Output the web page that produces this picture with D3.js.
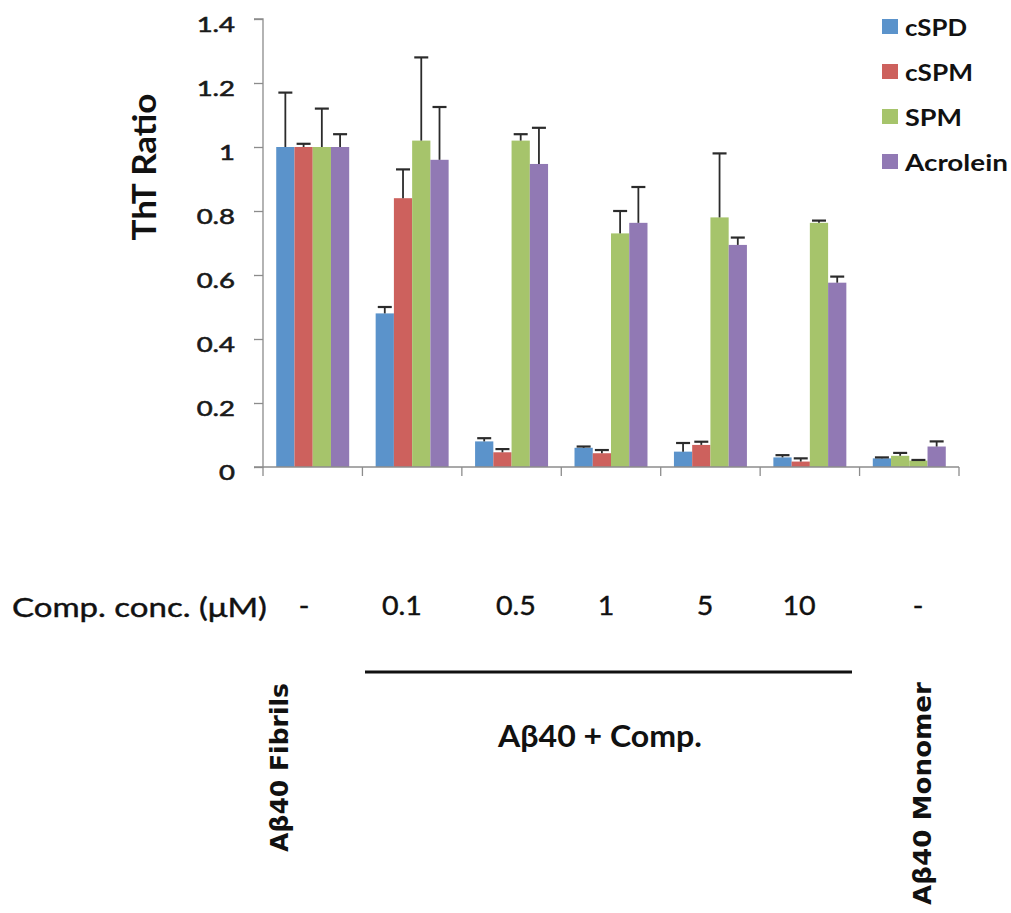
<!DOCTYPE html>
<html><head><meta charset="utf-8">
<script src="https://cdn.jsdelivr.net/npm/d3@7"></script>
<style>html,body{margin:0;padding:0;background:#fff;}svg{display:block;}</style>
</head><body>
<svg id="chart" width="1011" height="913"></svg>
<script>
// ---------- data ----------
const categories = ["Aβ40 Fibrils", "0.1", "0.5", "1", "5", "10", "Aβ40 Monomer"];
const concLabels = ["-", "0.1", "0.5", "1", "5", "10", "-"];
const seriesNames = ["cSPD", "cSPM", "SPM", "Acrolein"];
const cSPD        = [1.00, 0.48, 0.080, 0.060, 0.048, 0.030, 0.027];
const cSPDErr     = [0.17, 0.02, 0.010, 0.004, 0.027, 0.007, 0.003];
const cSPM        = [1.00, 0.84, 0.046, 0.043, 0.069, 0.017, 0.035];
const cSPMErr     = [0.01, 0.09, 0.010, 0.010, 0.010, 0.010, 0.009];
const SPM         = [1.00, 1.02, 1.020, 0.730, 0.780, 0.763, 0.020];
const SPMErr      = [0.12, 0.26, 0.020, 0.070, 0.200, 0.007, 0.002];
const Acrolein    = [1.00, 0.96, 0.947, 0.763, 0.694, 0.576, 0.064];
const AcroleinErr = [0.04, 0.165, 0.113, 0.112, 0.023, 0.019, 0.016];
const yTicks = [0, 0.2, 0.4, 0.6, 0.8, 1.0, 1.2, 1.4];
// fill used for the bars of the monomer group (second bar appears green in the source)
const monomerFill = ["cSPD", "SPM", "SPM", "Acrolein"];

const values = {cSPD, cSPM, SPM, Acrolein};
const errors = {cSPD: cSPDErr, cSPM: cSPMErr, SPM: SPMErr, Acrolein: AcroleinErr};
const colors = {cSPD: "#5b93cb", cSPM: "#cd615d", SPM: "#a6c46b", Acrolein: "#9179b4"};

// ---------- layout ----------
const svg = d3.select("#chart");
const X0 = 263, X1 = 959, Y0 = 467, Y1 = 19;
const axisColor = "#8c8c8c";
const SX = 1.25;

const x = d3.scaleBand().domain(categories).range([X0, X1]).padding(0);
const x1 = d3.scaleBand().domain(seriesNames).range([0, x.bandwidth()]).paddingInner(0).paddingOuter(0.725);
const y = d3.scaleLinear().domain([0, 1.4]).range([Y0, Y1]);

function addText(parent, o) {
  const g = parent.append("g").attr("transform", `translate(${o.x},${o.y})` + (o.rotate ? ` rotate(${o.rotate})` : ""));
  const t = g.append("text")
    .attr("font-family", o.family || "Lato, 'Open Sans', sans-serif")
    .attr("font-size", o.size)
    .attr("font-weight", o.weight || "normal")
    .attr("text-anchor", o.anchor || "start")
    .attr("fill", o.color || "#111")
    .text(o.text);
  if (o.stroke) t.attr("stroke", o.color || "#111").attr("stroke-width", o.stroke);
  const L = t.node().getComputedTextLength();
  const sx = o.width ? o.width / L : (o.sx || 1);
  t.attr("transform", `scale(${sx},1)`);
  return t;
}

// bars
const rows = [];
categories.forEach((c, i) => {
  seriesNames.forEach((s, j) => {
    const fillKey = c === "Aβ40 Monomer" ? monomerFill[j] : s;
    rows.push({cat: c, s, v: values[s][i], e: errors[s][i], fill: colors[fillKey]});
  });
});

svg.append("g").selectAll("rect").data(rows).join("rect")
  .attr("x", d => x(d.cat) + x1(d.s))
  .attr("width", x1.bandwidth())
  .attr("y", d => y(d.v))
  .attr("height", d => y(0) - y(d.v))
  .attr("fill", d => d.fill);

// error bars
const eb = svg.append("g").attr("stroke", "#2b2b2b").attr("stroke-width", 1.8);
rows.forEach(d => {
  const cx = x(d.cat) + x1(d.s) + x1.bandwidth() / 2;
  eb.append("line").attr("x1", cx).attr("x2", cx).attr("y1", y(d.v)).attr("y2", y(d.v + d.e));
  eb.append("line").attr("x1", cx - 7).attr("x2", cx + 7).attr("y1", y(d.v + d.e)).attr("y2", y(d.v + d.e)).attr("stroke-width", 2.2);
});

// y axis
const yAxis = svg.append("g").attr("transform", `translate(${X0},0)`)
  .call(d3.axisLeft(y).tickValues(yTicks).tickSize(9).tickFormat(() => ""));
yAxis.select(".domain").attr("stroke", axisColor).attr("stroke-width", 1.3).attr("d", `M-9,${Y1}H0V${Y0}H-9`);
yAxis.selectAll(".tick line").attr("stroke", axisColor).attr("stroke-width", 1.3);
yTicks.forEach(t => {
  addText(svg, {x: 235, y: y(t) + 13, text: d3.format("~g")(t), size: 22, anchor: "end", sx: SX, stroke: 0.6, color: "#1a1a1a"});
});

// x axis
svg.append("line").attr("x1", X0).attr("x2", X1).attr("y1", Y0).attr("y2", Y0).attr("stroke", axisColor).attr("stroke-width", 1.3);
const bounds = categories.map(c => x(c)).concat([X1]);
svg.append("g").selectAll("line").data(bounds).join("line")
  .attr("x1", d => d).attr("x2", d => d).attr("y1", Y0).attr("y2", Y0 + 9)
  .attr("stroke", axisColor).attr("stroke-width", 1.3);

// y title
addText(svg, {x: 156, y: 167, rotate: -90, text: "ThT Ratio", size: 32, weight: "bold", anchor: "middle", width: 147, color: "#111"});

// legend
const legendY = [27, 72, 117, 162];
const legendW = [62, 68, 57, 103];
seriesNames.forEach((s, i) => {
  svg.append("rect").attr("x", 882).attr("y", legendY[i] - 8).attr("width", 16).attr("height", 15).attr("fill", colors[s]);
  addText(svg, {x: 905, y: legendY[i] + 9, text: s, size: 23, weight: "bold", width: legendW[i], color: "#111"});
});

// concentration row
addText(svg, {x: 12, y: 617, text: "Comp. conc. (μM)", size: 26, width: 255, stroke: 0.4, color: "#111"});
const concX = [304, 402, 516, 606, 705, 799, 918];
concLabels.forEach((t, i) => {
  addText(svg, {x: concX[i], y: 615, text: t, size: 26, anchor: "middle", sx: 1.1, stroke: 0.4, color: "#111"});
});

// group line and labels
svg.append("line").attr("x1", 365).attr("x2", 852).attr("y1", 672).attr("y2", 672).attr("stroke", "#111").attr("stroke-width", 3);
addText(svg, {x: 600, y: 747, text: "Aβ40 + Comp.", size: 30, weight: "bold", anchor: "middle", width: 204, color: "#111"});
addText(svg, {x: 288, y: 683, rotate: -90, text: categories[0], size: 25, weight: "bold", anchor: "end", width: 169, family: "'DejaVu Sans', sans-serif", color: "#111"});
addText(svg, {x: 931, y: 682, rotate: -90, text: categories[6], size: 25, weight: "bold", anchor: "end", width: 223, family: "'DejaVu Sans', sans-serif", color: "#111"});
</script>
</body></html>
